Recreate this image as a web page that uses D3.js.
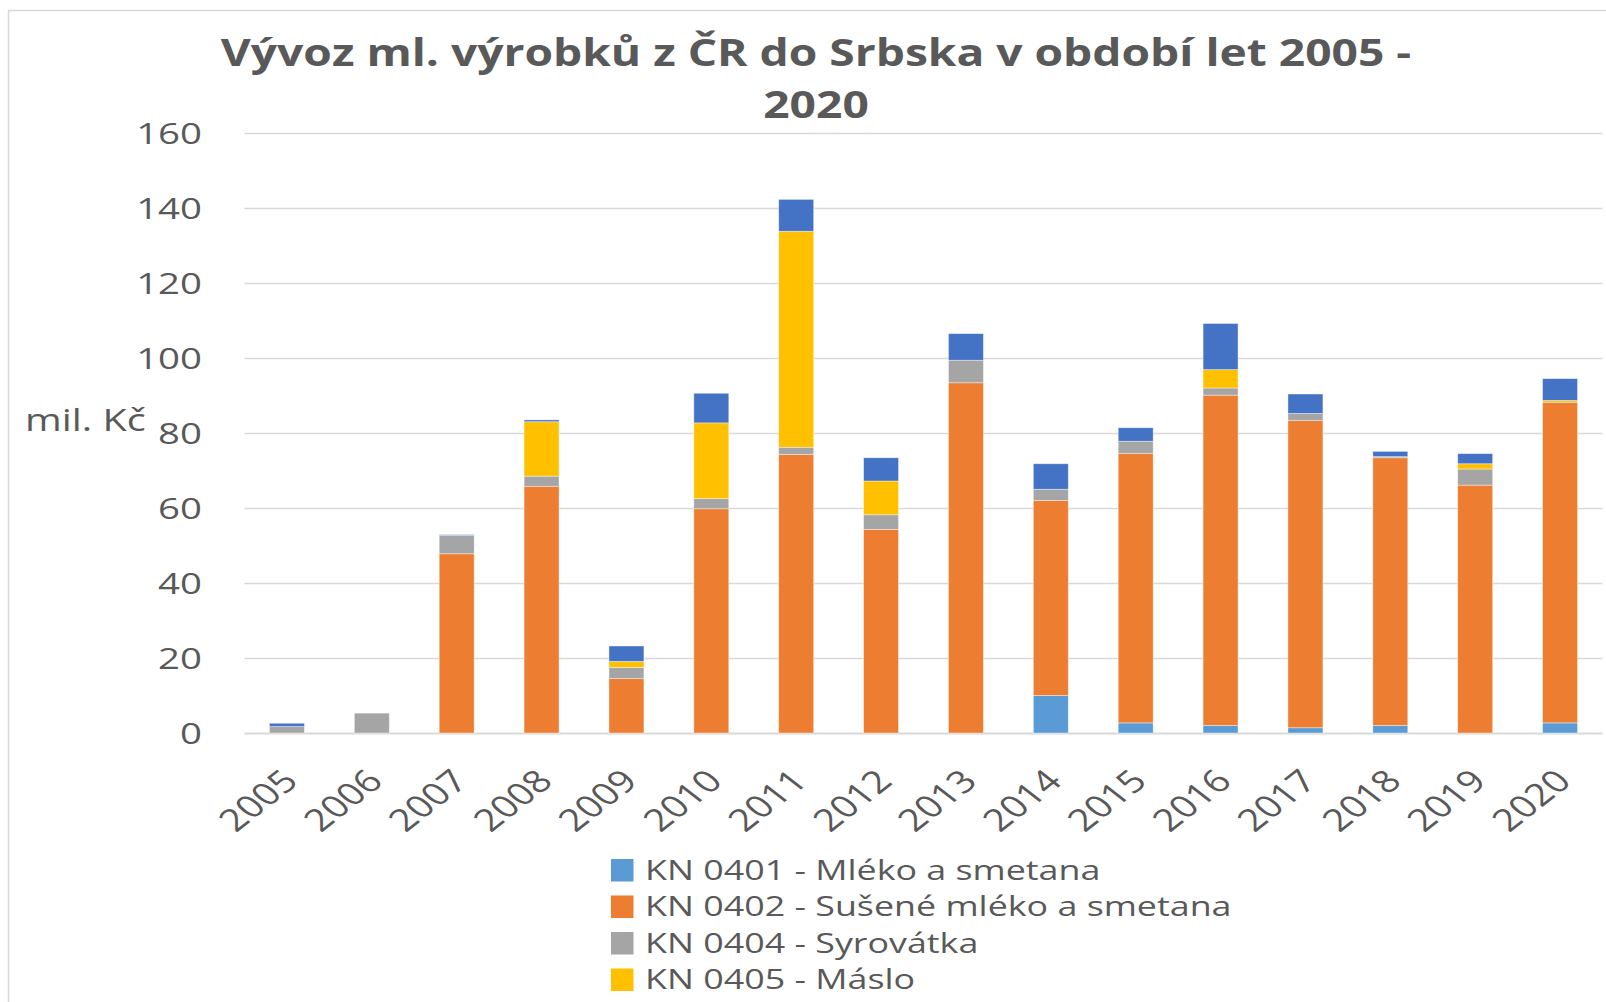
<!DOCTYPE html>
<html>
<head>
<meta charset="utf-8">
<script src="https://cdn.jsdelivr.net/npm/d3@7"></script>
<style>
  html, body { margin: 0; padding: 0; background: #fff; }
  svg { display: block; font-family: "Open Sans", sans-serif; }
</style>
</head>
<body>
<svg id="chart" width="1606" height="1002"></svg>
<script>
// roky a hodnoty (mil. Kč)
const years = ["2005","2006","2007","2008","2009","2010","2011","2012","2013","2014","2015","2016","2017","2018","2019","2020"];
const mleko     = [0, 0, 0, 0, 0, 0, 0, 0, 0, 10.0, 2.7, 2.0, 1.4, 2.0, 0, 2.7];
const susene    = [0, 0, 47.8, 65.8, 14.5, 59.8, 74.3, 54.3, 93.4, 52.0, 71.8, 88.1, 81.9, 71.4, 66.1, 85.5];
const syrovatka = [1.7, 5.3, 4.9, 2.7, 3.0, 2.7, 1.9, 3.9, 6.0, 3.0, 3.3, 1.9, 1.9, 0.3, 4.3, 0];
const maslo     = [0, 0, 0, 14.5, 1.6, 20.2, 57.6, 9.0, 0, 0, 0, 4.9, 0, 0, 1.4, 0.5];
const syry      = [0.9, 0, 0.2, 0.5, 4.1, 7.9, 8.5, 6.2, 7.1, 6.8, 3.6, 12.3, 5.2, 1.4, 2.7, 5.8];
const yTicks = [0, 20, 40, 60, 80, 100, 120, 140, 160];

const seriesNames = [
    "KN 0401 - Mléko a smetana",
    "KN 0402 - Sušené mléko a smetana",
    "KN 0404 - Syrovátka",
    "KN 0405 - Máslo",
    "KN 0406 - Sýry a tvaroh"
];
const seriesValues = [mleko, susene, syrovatka, maslo, syry];
const colors = ["#5B9BD5", "#ED7D31", "#A5A5A5", "#FFC000", "#4472C4"];

const tableData = years.map((y, i) => {
    const row = { year: y };
    seriesNames.forEach((s, j) => row[s] = seriesValues[j][i]);
    return row;
});

const textColor = "#595959";
const SX = 1.28; // horizontal stretch of the original picture

const svg = d3.select("#chart");
const margin = {top: 133, left: 244.5, right: 3.5, bottom: 269};
const width = 1606, height = 1002;

// chart border
svg.append("rect")
    .attr("x", 8.5).attr("y", 10.5)
    .attr("width", 1620).attr("height", 1020)
    .attr("fill", "none").attr("stroke", "#d9d9d9").attr("stroke-width", 1.5);

const x = d3.scaleBand()
    .domain(years)
    .range([margin.left, width - margin.right])
    .paddingInner(0.588)
    .paddingOuter(0.294);

const y = d3.scaleLinear()
    .domain([0, 160])
    .range([height - margin.bottom, margin.top]);

// gridlines
svg.append("g")
    .attr("transform", `translate(${margin.left},0)`)
    .call(d3.axisLeft(y).tickValues(yTicks).tickSize(-(width - margin.right - margin.left)).tickFormat(""))
    .call(g => g.select(".domain").remove())
    .call(g => g.selectAll(".tick line")
        .attr("stroke", "#d9d9d9")
        .attr("stroke-width", d => d === 0 ? 2 : 1.3));

// y labels
svg.append("g").selectAll("g")
    .data(yTicks)
    .join("g")
    .attr("transform", d => `translate(202,${y(d)}) scale(${SX},1)`)
    .append("text")
    .attr("text-anchor", "end")
    .attr("dy", "0.35em")
    .attr("fill", textColor)
    .style("font-size", "30px")
    .text(d => d);

svg.append("text")
    .attr("transform", `translate(25,420) scale(${SX},1)`)
    .attr("dy", "0.35em")
    .attr("fill", textColor)
    .style("font-size", "31px")
    .text("mil. Kč");

// stacked bars
const stack = d3.stack().keys(seriesNames);
const stacked = stack(tableData);

svg.append("g").selectAll("g")
    .data(stacked)
    .join("g")
    .attr("fill", (d, i) => colors[i])
    .selectAll("rect")
    .data(d => d)
    .join("rect")
    .attr("x", d => x(d.data.year))
    .attr("y", d => y(d[1]))
    .attr("width", x.bandwidth())
    .attr("height", d => Math.max(0, y(d[0]) - y(d[1])))
    .attr("stroke", "#fff")
    .attr("stroke-opacity", 0.5)
    .attr("stroke-width", 0.8);

// x labels
svg.append("g").selectAll("text")
    .data(years)
    .join("text")
    .attr("transform", d => `translate(${x(d) + x.bandwidth() / 2 + 13},783) scale(${SX},1) rotate(-45)`)
    .attr("text-anchor", "end")
    .attr("fill", textColor)
    .style("font-size", "31px")
    .text(d => d);

// title
const title = svg.append("g")
    .attr("fill", textColor)
    .style("font-size", "38px")
    .style("font-weight", "700");
title.append("text")
    .attr("transform", `translate(816,66) scale(1.215,1)`)
    .attr("text-anchor", "middle")
    .text("Vývoz ml. výrobků z ČR do Srbska v období let 2005 -");
title.append("text")
    .attr("transform", `translate(816,118) scale(1.215,1)`)
    .attr("text-anchor", "middle")
    .text("2020");

// legend (only the rows that fit into the picture)
const legend = svg.append("g").selectAll("g")
    .data(seriesNames.slice(0, 4))
    .join("g")
    .attr("transform", (d, i) => `translate(611,${870 + i * 36.5})`);
legend.append("rect")
    .attr("x", 0).attr("y", -11)
    .attr("width", 22.5).attr("height", 22.5)
    .attr("fill", (d, i) => colors[i]);
legend.append("text")
    .attr("transform", `translate(34,0) scale(${SX},1)`)
    .attr("dy", "0.35em")
    .attr("fill", textColor)
    .style("font-size", "28px")
    .text(d => d);
</script>
</body>
</html>
